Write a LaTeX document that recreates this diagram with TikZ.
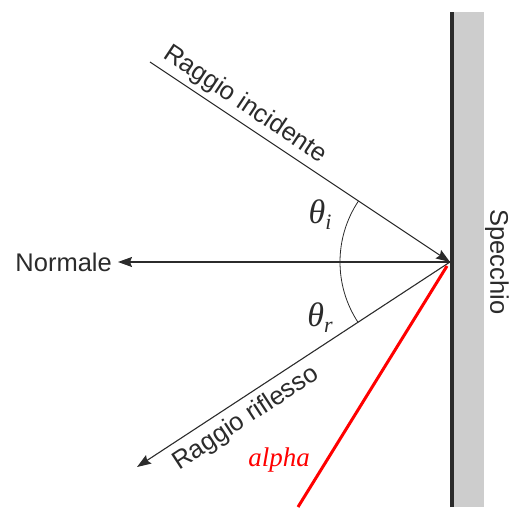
\documentclass[tikz,border=0pt]{standalone}
\usepackage{fontspec}
\setmainfont{Liberation Sans}
\newfontfamily\alphafont{Liberation Serif}
\usetikzlibrary{arrows.meta}
\definecolor{ink}{HTML}{2B2B2B}
\definecolor{mirrorgray}{HTML}{CDCDCD}
\newcommand{\thetalbl}[1]{\alphafont\itshape θ\raisebox{-6pt}{\fontsize{22}{24}\selectfont #1}}
\tikzset{
  ray/.style={draw=ink, line width=1.1pt, -{Stealth[length=14pt,width=10pt,inset=2pt]}},
  lbl/.style={text=ink, font=\fontsize{25.5}{28}\selectfont, inner sep=2pt},
  anglbl/.style={text=ink, font=\fontsize{34}{36}\selectfont, inner sep=0pt}
}
\begin{document}
\begin{tikzpicture}[x=1pt,y=1pt]
\useasboundingbox (0,0) rectangle (512,507);
% mirror
\fill[mirrorgray] (454,0) rectangle (484,495);
\draw[ink, line width=4pt] (452,0) -- (452,495);
\node[lbl, rotate=-90] (specchio) at (497,245) {Specchio};
% points
\coordinate (P) at (450,245);
\coordinate (inc) at (150,445);
\coordinate (ref) at (137,40);
\node[lbl, anchor=east, inner sep=0pt] (normale) at (112,245) {Normale};
% rays
\draw[ray] (inc) -- (P);
\draw[ray] (P) -- ([xshift=6pt]normale.east);
\draw[ray] (P) -- (ref);
% labels along rays
\path (inc) -- (P) node[lbl, pos=0.285, sloped, above=3pt] (inclbl) {Raggio incidente};
\path (ref) -- (P) node[lbl, pos=0.315, sloped, below=5pt] (reflbl) {Raggio riflesso};
% angle arc
\draw[ink, line width=0.8pt] (P) ++(146.3:110) arc[start angle=146.3, end angle=213.2, radius=110];
\node[anglbl] (thi) at (320,292) {\thetalbl{i}};
\node[anglbl] (thr) at (320,189) {\thetalbl{r}};
% red line
\coordinate (redtop) at (447,241);
\coordinate (redbot) at (298,0);
\draw[red, line width=3pt] (redtop) -- (redbot);
\node[text=red, font=\alphafont\itshape\fontsize{27}{29}\selectfont, inner sep=0pt] (alpha) at (279,47) {alpha};
\end{tikzpicture}
\end{document}
